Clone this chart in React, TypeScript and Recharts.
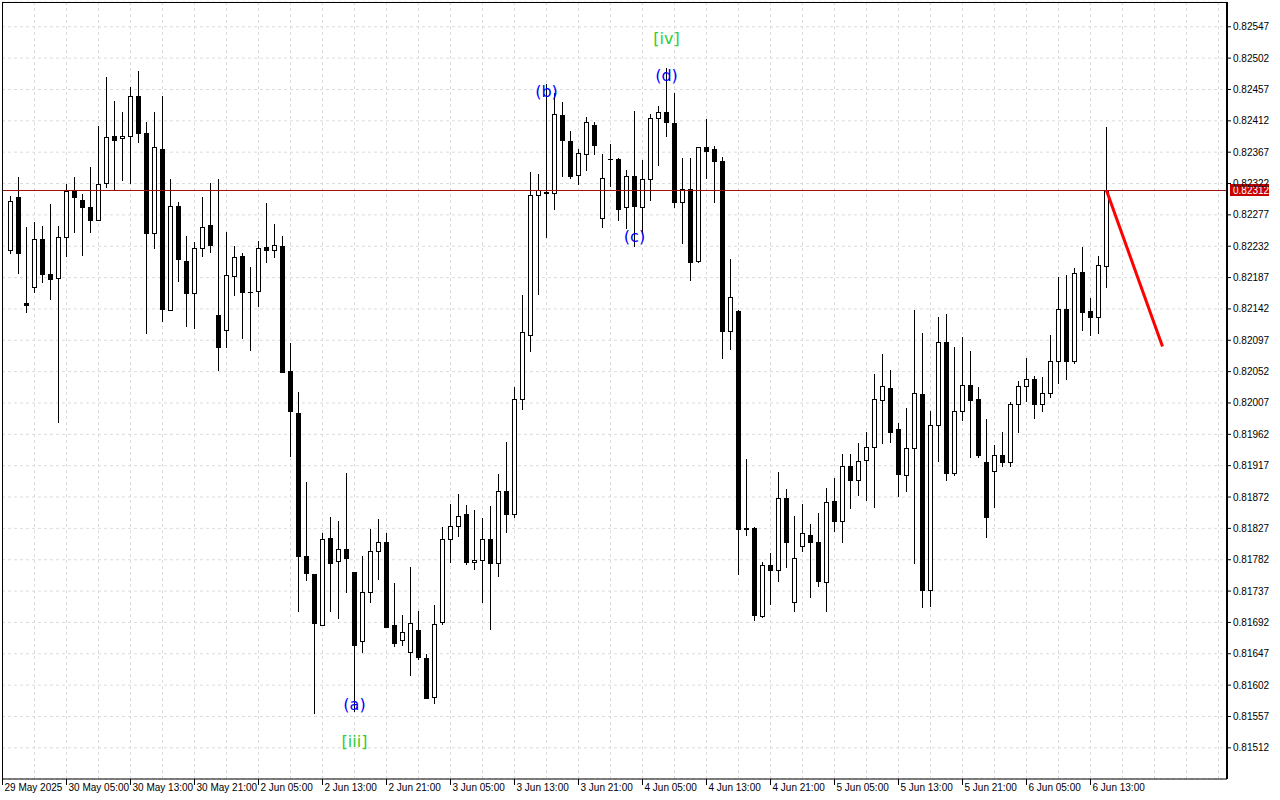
import React from 'react';
import { ComposedChart, Bar, Line, Scatter, XAxis, YAxis, CartesianGrid, ReferenceLine } from 'recharts';

const opens = [
  0.82227, 0.82303, 0.82150, 0.82173, 0.82242, 0.82192, 0.82186, 0.82245, 0.82313, 0.82298,
  0.82289, 0.82270, 0.82323, 0.82390, 0.82387, 0.82390, 0.82448, 0.82394, 0.82251, 0.82371,
  0.82141, 0.82290, 0.82211, 0.82165, 0.82230, 0.82262, 0.82133, 0.82112, 0.82189, 0.82218,
  0.82167, 0.82168, 0.82231, 0.82226, 0.82233, 0.82053, 0.81992, 0.81788, 0.81761, 0.81689,
  0.81813, 0.81780, 0.81797, 0.81764, 0.81666, 0.81736, 0.81794, 0.81808, 0.81688, 0.81667,
  0.81650, 0.81681, 0.81641, 0.81585, 0.81692, 0.81812, 0.81831, 0.81847, 0.81779, 0.81782,
  0.81812, 0.81777, 0.81880, 0.81848, 0.82012, 0.82104, 0.82305, 0.82310, 0.82309, 0.82421,
  0.82383, 0.82334, 0.82364, 0.82406, 0.82272, 0.82357, 0.82357, 0.82288, 0.82333, 0.82289,
  0.82328, 0.82416, 0.82425, 0.82409, 0.82295, 0.82314, 0.82211, 0.82374, 0.82372, 0.82355,
  0.82110, 0.82139, 0.81828, 0.81828, 0.81701, 0.81774, 0.81767, 0.81870, 0.81722, 0.81802,
  0.81817, 0.81807, 0.81750, 0.81866, 0.81838, 0.81916, 0.81896, 0.81925, 0.81944, 0.82011,
  0.82028, 0.81970, 0.81903, 0.81942, 0.82020, 0.81738, 0.81975, 0.82094, 0.81906, 0.81995,
  0.82033, 0.82012, 0.81922, 0.81909, 0.81933, 0.81922, 0.82005, 0.82031, 0.82041, 0.82005,
  0.82021, 0.82067, 0.82142, 0.82067, 0.82195, 0.82139, 0.82130, 0.82204,
];
const highs = [
  0.82304, 0.82332, 0.82259, 0.82267, 0.82261, 0.82292, 0.82261, 0.82322, 0.82332, 0.82307,
  0.82346, 0.82405, 0.82475, 0.82441, 0.82424, 0.82460, 0.82484, 0.82411, 0.82425, 0.82447,
  0.82328, 0.82296, 0.82246, 0.82238, 0.82303, 0.82323, 0.82328, 0.82253, 0.82232, 0.82222,
  0.82202, 0.82239, 0.82294, 0.82264, 0.82246, 0.82093, 0.82023, 0.81894, 0.81762, 0.81820,
  0.81843, 0.81837, 0.81906, 0.81765, 0.81787, 0.81826, 0.81840, 0.81820, 0.81749, 0.81703,
  0.81771, 0.81709, 0.81646, 0.81717, 0.81829, 0.81862, 0.81877, 0.81860, 0.81854, 0.81842,
  0.81859, 0.81905, 0.81951, 0.82030, 0.82162, 0.82338, 0.82336, 0.82465, 0.82452, 0.82439,
  0.82397, 0.82372, 0.82417, 0.82411, 0.82364, 0.82379, 0.82358, 0.82342, 0.82426, 0.82356,
  0.82422, 0.82434, 0.82488, 0.82452, 0.82359, 0.82359, 0.82374, 0.82414, 0.82376, 0.82360,
  0.82214, 0.82140, 0.81927, 0.81829, 0.81779, 0.81792, 0.81908, 0.81884, 0.81845, 0.81862,
  0.81834, 0.81849, 0.81885, 0.81900, 0.81934, 0.81934, 0.81950, 0.81965, 0.82048, 0.82078,
  0.82055, 0.81978, 0.82000, 0.82141, 0.82108, 0.81995, 0.82131, 0.82135, 0.82088, 0.82101,
  0.82081, 0.82030, 0.81984, 0.81946, 0.81965, 0.82008, 0.82039, 0.82072, 0.82046, 0.82044,
  0.82105, 0.82188, 0.82190, 0.82201, 0.82231, 0.82157, 0.82218, 0.82403,
];
const lows = [
  0.82222, 0.82193, 0.82138, 0.82166, 0.82180, 0.82156, 0.81979, 0.82218, 0.82253, 0.82220,
  0.82252, 0.82270, 0.82317, 0.82312, 0.82327, 0.82323, 0.82381, 0.82107, 0.82230, 0.82124,
  0.82141, 0.82182, 0.82117, 0.82115, 0.82218, 0.82224, 0.82054, 0.82088, 0.82162, 0.82100,
  0.82083, 0.82146, 0.82210, 0.82217, 0.82051, 0.81931, 0.81708, 0.81753, 0.81562, 0.81688,
  0.81708, 0.81698, 0.81735, 0.81565, 0.81649, 0.81722, 0.81755, 0.81685, 0.81658, 0.81659,
  0.81617, 0.81639, 0.81583, 0.81576, 0.81690, 0.81779, 0.81816, 0.81776, 0.81768, 0.81722,
  0.81682, 0.81759, 0.81822, 0.81844, 0.81999, 0.82081, 0.82164, 0.82245, 0.82285, 0.82333,
  0.82330, 0.82321, 0.82341, 0.82364, 0.82259, 0.82319, 0.82270, 0.82258, 0.82232, 0.82249,
  0.82298, 0.82348, 0.82390, 0.82289, 0.82237, 0.82183, 0.82210, 0.82330, 0.82295, 0.82072,
  0.82084, 0.81761, 0.81818, 0.81696, 0.81700, 0.81718, 0.81752, 0.81772, 0.81709, 0.81794,
  0.81728, 0.81744, 0.81708, 0.81823, 0.81807, 0.81856, 0.81875, 0.81868, 0.81857, 0.81949,
  0.81951, 0.81873, 0.81880, 0.81778, 0.81714, 0.81716, 0.81924, 0.81896, 0.81903, 0.81983,
  0.81930, 0.81929, 0.81815, 0.81857, 0.81917, 0.81916, 0.81965, 0.82010, 0.81985, 0.81996,
  0.82016, 0.82036, 0.82041, 0.82064, 0.82112, 0.82104, 0.82108, 0.82173,
];
const closes = [
  0.82297, 0.82222, 0.82147, 0.82242, 0.82192, 0.82185, 0.82245, 0.82311, 0.82303, 0.82288,
  0.82270, 0.82321, 0.82389, 0.82385, 0.82390, 0.82448, 0.82394, 0.82251, 0.82374, 0.82142,
  0.82290, 0.82214, 0.82165, 0.82229, 0.82259, 0.82234, 0.82087, 0.82190, 0.82216, 0.82167,
  0.82166, 0.82230, 0.82227, 0.82234, 0.82052, 0.81995, 0.81787, 0.81763, 0.81691, 0.81812,
  0.81778, 0.81797, 0.81785, 0.81659, 0.81736, 0.81794, 0.81807, 0.81685, 0.81662, 0.81678,
  0.81691, 0.81642, 0.81583, 0.81690, 0.81812, 0.81830, 0.81845, 0.81779, 0.81782, 0.81812,
  0.81778, 0.81880, 0.81848, 0.82012, 0.82109, 0.82305, 0.82312, 0.82309, 0.82422, 0.82384,
  0.82333, 0.82366, 0.82410, 0.82377, 0.82330, 0.82357, 0.82285, 0.82333, 0.82290, 0.82329,
  0.82416, 0.82425, 0.82410, 0.82296, 0.82314, 0.82209, 0.82374, 0.82369, 0.82354, 0.82110,
  0.82159, 0.81826, 0.81826, 0.81702, 0.81774, 0.81767, 0.81871, 0.81807, 0.81784, 0.81820,
  0.81807, 0.81751, 0.81865, 0.81837, 0.81916, 0.81896, 0.81924, 0.81944, 0.82013, 0.82031,
  0.81965, 0.81905, 0.81942, 0.82021, 0.81739, 0.81975, 0.82094, 0.81906, 0.81995, 0.82033,
  0.82011, 0.81932, 0.81843, 0.81932, 0.81922, 0.82005, 0.82031, 0.82041, 0.82005, 0.82021,
  0.82067, 0.82142, 0.82067, 0.82194, 0.82138, 0.82131, 0.82205, 0.82312,
];

// forecast (red arrow line)
const forecastIdx = [137, 144];
const forecastVals = [0.82312, 0.82088];

const priceTicks = [
  0.81512, 0.81557, 0.81602, 0.81647, 0.81692, 0.81737, 0.81782, 0.81827, 0.81872, 0.81917,
  0.81962, 0.82007, 0.82052, 0.82097, 0.82142, 0.82187, 0.82232, 0.82277, 0.82322, 0.82367,
  0.82412, 0.82457, 0.82502, 0.82547,
];
const timeTickIdx = [-1, 7, 15, 23, 31, 39, 47, 55, 63, 71, 79, 87, 95, 103, 111, 119, 127, 135];
const timeTickLabels = [
  '29 May 2025', '30 May 05:00', '30 May 13:00', '30 May 21:00', '2 Jun 05:00', '2 Jun 13:00',
  '2 Jun 21:00', '3 Jun 05:00', '3 Jun 13:00', '3 Jun 21:00', '4 Jun 05:00', '4 Jun 13:00',
  '4 Jun 21:00', '5 Jun 05:00', '5 Jun 13:00', '5 Jun 21:00', '6 Jun 05:00', '6 Jun 13:00',
];
const gridIdx = [
  3, 7, 11, 15, 19, 23, 27, 31, 35, 39, 43, 47, 51, 55, 59, 63, 67, 71, 75, 79, 83, 87, 91, 95,
  99, 103, 107, 111, 115, 119, 123, 127, 131, 135, 139, 143, 147, 151,
];

const waveText = ['(a)', '[iii]', '(b)', '(c)', '(d)', '[iv]'];
const waveIdx = [43, 43, 67, 78, 82, 82];
const wavePrice = [0.81574, 0.81521, 0.82454, 0.82246, 0.82477, 0.82530];
const waveColor = ['#0000ff', '#32cd32', '#0000ff', '#0000ff', '#0000ff', '#32cd32'];

const TOTAL_SLOTS = 153;

const rows: any[] = [];
for (let i = 0; i < TOTAL_SLOTS; i++) {
  const r: any = { i };
  if (i < opens.length) {
    r.range = [lows[i], highs[i]];
    r.o = opens[i];
    r.h = highs[i];
    r.l = lows[i];
    r.c = closes[i];
  }
  const fi = forecastIdx.indexOf(i);
  if (fi >= 0) r.f = forecastVals[fi];
  rows.push(r);
}

const waveData = waveText.map((t, k) => ({ i: waveIdx[k], p: wavePrice[k], text: t, color: waveColor[k] }));

const Candle = (props: any) => {
  const { x, y, width, height, payload } = props;
  if (!payload || payload.o == null || x == null) return null;
  const { o, c, h, l } = payload;
  const yTop = Math.min(y, y + height);
  const hh = Math.abs(height);
  const cx = Math.floor(x + width / 2) + 0.5;
  const py = (v: number) => yTop + ((h - v) / (h - l)) * hh;
  const yo = py(o);
  const yc = py(c);
  const top = Math.round(Math.min(yo, yc));
  const bot = Math.round(Math.max(yo, yc));
  const bull = c > o;
  return (
    <g>
      <line x1={cx} x2={cx} y1={Math.round(yTop)} y2={Math.round(yTop + hh) + 1} stroke="#000" strokeWidth={1} />
      {bot - top < 1 ? (
        <line x1={cx - 2.5} x2={cx + 2.5} y1={top + 0.5} y2={top + 0.5} stroke="#000" strokeWidth={1} />
      ) : (
        <rect x={cx - 2} y={top + 0.5} width={4} height={bot - top} fill={bull ? '#fff' : '#000'} stroke="#000" strokeWidth={1} />
      )}
    </g>
  );
};

const WaveLabel = (props: any) => {
  const { cx, cy, payload } = props;
  if (cx == null || cy == null) return null;
  return (
    <text x={cx} y={cy} textAnchor="middle" dominantBaseline="central" fill={payload.color}
      style={{ fontFamily: '"DejaVu Sans", sans-serif', fontSize: 16 }}>
      {payload.text}
    </text>
  );
};

const XTick = (props: any) => {
  const { x, y, payload } = props;
  const k = timeTickIdx.indexOf(payload.value);
  const label = k >= 0 ? timeTickLabels[k] : '';
  return (
    <text x={x + 2} y={y + 6} textAnchor="start" fill="#000"
      style={{ fontFamily: '"Liberation Sans", Arial, sans-serif', fontSize: 10 }}>
      {label}
    </text>
  );
};

const YTick = (props: any) => {
  const { x, y, payload } = props;
  return (
    <text x={x} y={y + 3.5} textAnchor="start" fill="#000"
      style={{ fontFamily: '"Liberation Sans", Arial, sans-serif', fontSize: 10 }}>
      {Number(payload.value).toFixed(5)}
    </text>
  );
};

const PriceTag = (props: any) => {
  const vb = props.viewBox || {};
  const right = (vb.x || 0) + (vb.width || 0);
  const yy = vb.y || 0;
  return (
    <g>
      <rect x={right + 3} y={Math.round(yy) - 6} width={39} height={12} fill="#c80000" />
      <text x={right + 6} y={Math.round(yy) + 4} fill="#fff" textAnchor="start"
        style={{ fontFamily: '"Liberation Sans", Arial, sans-serif', fontSize: 10 }}>
        {closes[closes.length - 1].toFixed(5)}
      </text>
    </g>
  );
};

export default function App() {
  return (
    <div style={{ position: 'absolute', left: 0, top: 0, width: 1280, height: 800, background: '#fff' }}>
      <ComposedChart width={1280} height={800} data={rows} margin={{ top: 2, right: 0, bottom: 0, left: 2 }}>
        <CartesianGrid stroke="#dcdcdc" strokeDasharray="3 3" vertical={true} verticalValues={gridIdx} />
        <XAxis
          dataKey="i"
          type="number"
          domain={[-1.0625, 152.0625]}
          allowDataOverflow
          ticks={timeTickIdx}
          interval={0}
          height={21}
          tick={<XTick />}
          tickSize={6}
          tickMargin={0}
          tickLine={{ stroke: '#000' }}
          axisLine={{ stroke: '#000' }}
        />
        <YAxis
          yAxisId={0}
          type="number"
          orientation="right"
          domain={[0.8146726, 0.8258257]}
          allowDataOverflow
          ticks={priceTicks}
          interval={0}
          width={53}
          tick={<YTick />}
          tickSize={4}
          tickMargin={2}
          tickLine={{ stroke: '#000' }}
          axisLine={{ stroke: '#000', strokeWidth: 2 }}
        />
        <ReferenceLine y={closes[closes.length - 1]} stroke="#a01010" strokeWidth={1} ifOverflow="visible" label={<PriceTag />} />
        <Bar dataKey="range" barSize={5} shape={<Candle />} isAnimationActive={false} />
        <Line dataKey="f" stroke="#ff0000" strokeWidth={3} dot={false} activeDot={false} connectNulls isAnimationActive={false} />
        <Scatter data={waveData} dataKey="p" shape={<WaveLabel />} isAnimationActive={false} />
      </ComposedChart>
      <div style={{ position: 'absolute', left: 2, top: 2, width: 1226, height: 778, borderLeft: '1px solid #000', borderTop: '1px solid #000', boxSizing: 'border-box', pointerEvents: 'none' }} />
    </div>
  );
}
